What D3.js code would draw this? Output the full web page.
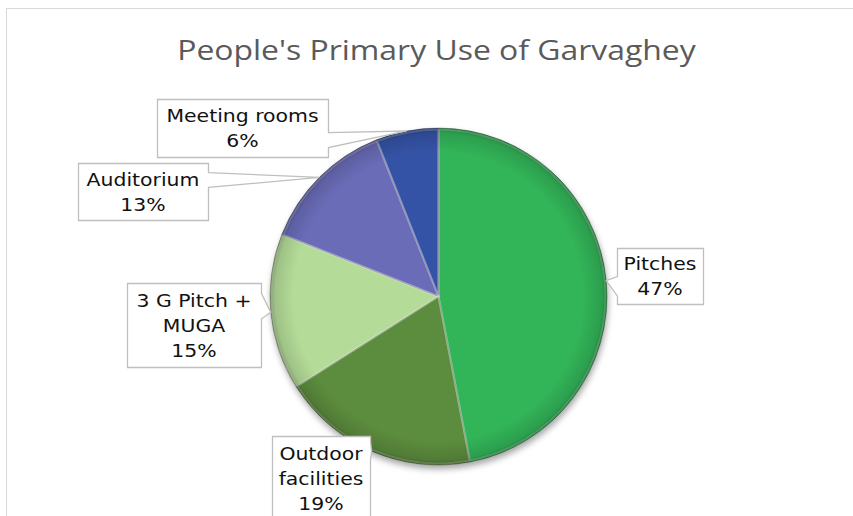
<!DOCTYPE html>
<html>
<head>
<meta charset="utf-8">
<script src="https://cdn.jsdelivr.net/npm/d3@7"></script>
<style>
  body { margin: 0; background: #fff; }
  svg { display: block; }
</style>
</head>
<body>
<div id="chart"></div>
<script>
var title = "People's Primary Use of Garvaghey";
var categories = ["Pitches", "Outdoor facilities", "3 G Pitch + MUGA", "Auditorium", "Meeting rooms"];
var values = [47, 19, 15, 13, 6];
var labelLines = [["Pitches"], ["Outdoor", "facilities"], ["3 G Pitch +", "MUGA"], ["Auditorium"], ["Meeting rooms"]];
var colors = ["#30b458", "#5b8c3c", "#b4dc98", "#6a6cb8", "#3652a6"];

var width = 853, height = 516;
var cx = 438.5, cy = 296.5, radius = 168.5;

// callout boxes (x, y, w, h, side the pointer leaves from, pointer base as fraction of that side)
var boxes = [
  {x: 617, y: 248, w: 86, h: 56, side: "left", b0: 0.5, b1: 0.85},
  {x: 272, y: 436, w: 98, h: 84, side: "right", b0: 0.05, b1: 0.28},
  {x: 127, y: 283, w: 134, h: 84, side: "right", b0: 0.12, b1: 0.42},
  {x: 78, y: 163, w: 130, h: 57, side: "right", b0: 0.16, b1: 0.42},
  {x: 157, y: 99, w: 171, h: 58, side: "right", b0: 0.57, b1: 0.83}
];

var svg = d3.select("#chart").append("svg")
    .attr("width", width)
    .attr("height", height);

var defs = svg.append("defs");
var shadow = defs.append("filter").attr("id", "shadow")
    .attr("x", "-20%").attr("y", "-20%").attr("width", "140%").attr("height", "140%");
shadow.append("feDropShadow")
    .attr("dx", 1).attr("dy", 4).attr("stdDeviation", 3)
    .attr("flood-color", "#000").attr("flood-opacity", 0.35);

var rim = defs.append("radialGradient").attr("id", "rim")
    .attr("gradientUnits", "userSpaceOnUse")
    .attr("cx", 0).attr("cy", 0).attr("r", radius);
rim.append("stop").attr("offset", "0.86").attr("stop-color", "#000").attr("stop-opacity", 0);
rim.append("stop").attr("offset", "0.97").attr("stop-color", "#000").attr("stop-opacity", 0.12);
rim.append("stop").attr("offset", "1").attr("stop-color", "#000").attr("stop-opacity", 0.3);

// chart frame
svg.append("rect")
    .attr("x", 6.5).attr("y", 8.5)
    .attr("width", 900).attr("height", 600)
    .attr("fill", "none")
    .attr("stroke", "#d9d9d9");

svg.append("text")
    .attr("transform", "translate(436.5,60) scale(1.14,1)")
    .attr("text-anchor", "middle")
    .style("font-family", "'Open Sans', Lato, sans-serif")
    .style("font-size", "28px")
    .style("fill", "#5a5a5a")
    .text(title);

var data = categories.map(function(c, i) {
    return {name: c, value: values[i], lines: labelLines[i], color: colors[i], box: boxes[i]};
});

var pie = d3.pie().sort(null).value(function(d) { return d.value; });
var arc = d3.arc().innerRadius(0).outerRadius(radius);
var rimArc = d3.arc().innerRadius(radius).outerRadius(radius);
var arcs = pie(data);

var g = svg.append("g").attr("transform", "translate(" + cx + "," + cy + ")");

var slices = g.append("g").attr("filter", "url(#shadow)");
slices.selectAll("path")
    .data(arcs)
    .enter().append("path")
    .attr("d", arc)
    .attr("fill", function(d) { return d.data.color; })
    .attr("stroke", "rgba(0,0,0,0.35)")
    .attr("stroke-width", 0.8);

// bevel highlight along slice edges
g.append("g").selectAll("path")
    .data(arcs)
    .enter().append("path")
    .attr("d", d3.arc().innerRadius(0).outerRadius(radius - 1.5))
    .attr("fill", "none")
    .attr("stroke", "rgba(255,255,255,0.25)")
    .attr("stroke-width", 2);

g.append("circle")
    .attr("r", radius)
    .attr("fill", "url(#rim)");

// callouts
var labels = svg.append("g");
arcs.forEach(function(d) {
    var b = d.data.box;
    var p = rimArc.centroid(d);
    var px = cx + p[0], py = cy + p[1];
    var x0 = b.x + 0.5, y0 = b.y + 0.5, x1 = b.x + b.w + 0.5, y1 = b.y + b.h + 0.5;
    var path;
    if (b.side === "right") {
        var a0 = y0 + b.b0 * b.h, a1 = y0 + b.b1 * b.h;
        path = "M" + x0 + "," + y0 + "H" + x1 + "V" + a0 + "L" + px + "," + py +
            "L" + x1 + "," + a1 + "V" + y1 + "H" + x0 + "Z";
    } else {
        var c0 = y0 + b.b0 * b.h, c1 = y0 + b.b1 * b.h;
        path = "M" + x0 + "," + y0 + "H" + x1 + "V" + y1 + "H" + x0 + "V" + c1 +
            "L" + px + "," + py + "L" + x0 + "," + c0 + "Z";
    }
    labels.append("path")
        .attr("d", path)
        .attr("fill", "#fff")
        .attr("stroke", "#bfbfbf")
        .attr("stroke-width", 1.3);

    var lines = d.data.lines.concat([d.data.value + "%"]);
    var first = b.y + b.h / 2 - (lines.length - 1) * 12.5 + 6.5;
    lines.forEach(function(t, i) {
        labels.append("text")
            .attr("transform", "translate(" + (b.x + b.w / 2) + "," + (first + i * 25) + ") scale(1.2,1)")
            .attr("text-anchor", "middle")
            .style("font-family", "'DejaVu Sans', Verdana, sans-serif")
            .style("font-size", "17px")
            .style("fill", "#111")
            .text(t);
    });
});
</script>
</body>
</html>
